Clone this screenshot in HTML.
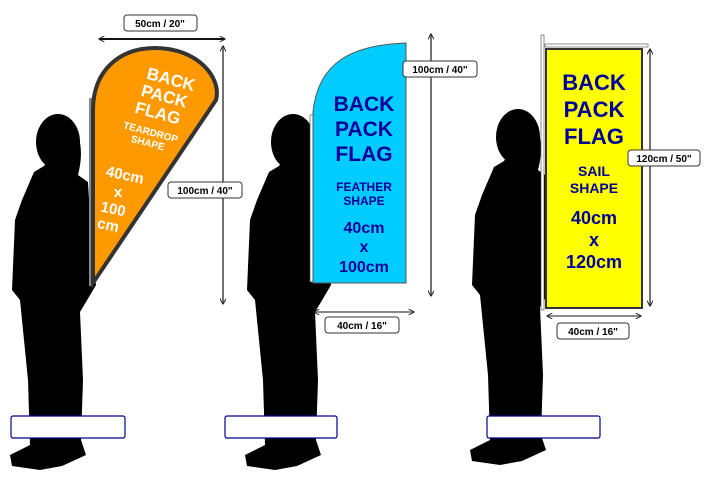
<!DOCTYPE html>
<html><head><style>
body{margin:0;background:#fff;width:707px;height:474px;overflow:hidden}
svg text{font-family:"Liberation Sans",sans-serif;font-weight:bold}
</style></head><body>
<svg width="707" height="474" viewBox="0 0 707 474" xmlns="http://www.w3.org/2000/svg">
<defs>
<g id="p">
<ellipse cx="58" cy="142" rx="22" ry="28" fill="#000"/>
<path d="M70,125 C84,135 82,160 78,175 L88,182 L92,250 L96,285 L86,302 L80,312 L83,380 L81,440 L86,455 L62,466 L40,470 L12,466 L10,455 L30,445 L28,380 L20,300 L12,290 L15,220 L22,200 L34,172 L44,166 Z" fill="#000"/>
</g>
<marker id="a" markerWidth="6" markerHeight="6" refX="5.5" refY="3" orient="auto-start-reverse" markerUnits="userSpaceOnUse"><path d="M0,0 L6,3 L0,6" fill="none" stroke="#222" stroke-width="1"/></marker>
</defs>
<use href="#p"/>
<use href="#p" x="235"/>
<use href="#p" x="460" y="-5"/>

<!-- teardrop -->
<rect x="89" y="98" width="3" height="188" fill="#888"/>
<path d="M93,283 L93,110 C93,70 120,48 155,48 C198,48 222,78 216,100 Z" fill="#f90" stroke="#333" stroke-width="4"/>
<g fill="#fff" text-anchor="middle" transform="rotate(15 150 150)">
<text x="152" y="82" font-size="17">BACK</text>
<text x="150" y="100" font-size="17">PACK</text>
<text x="148" y="118" font-size="17">FLAG</text>
<text x="146" y="136" font-size="10">TEARDROP</text>
<text x="146" y="147" font-size="10">SHAPE</text>
</g>
<g fill="#fff" text-anchor="middle" font-size="15">
<text x="125" y="180" transform="rotate(12 125 175)">40cm</text>
<text x="118" y="197">x</text>
<text x="113" y="214" transform="rotate(12 113 210)">100</text>
<text x="108" y="230" transform="rotate(12 108 226)">cm</text>
</g>
<line x1="99" y1="39" x2="225" y2="39" stroke="#111" stroke-width="2" marker-start="url(#a)" marker-end="url(#a)"/>
<rect x="124" y="15" width="73" height="16" rx="3" fill="#fff" stroke="#333"/>
<text x="160" y="27" font-size="10" text-anchor="middle">50cm / 20"</text>
<line x1="223" y1="46" x2="223" y2="304" stroke="#444" stroke-width="1.5" marker-start="url(#a)" marker-end="url(#a)"/>
<rect x="168" y="182" width="74" height="16" rx="3" fill="#fff" stroke="#333"/>
<text x="205" y="194" font-size="10" text-anchor="middle">100cm / 40"</text>

<!-- feather -->
<rect x="310" y="115" width="3" height="167" fill="#fff" stroke="#444" stroke-width="0.6"/>
<path d="M313,283 L313,112 C318,62 352,45 406,43 L406,283 Z" fill="#00ccff" stroke="#555" stroke-width="1"/>
<g fill="#000099" text-anchor="middle">
<text x="364" y="111" font-size="21">BACK</text>
<text x="364" y="136" font-size="21">PACK</text>
<text x="364" y="161" font-size="21">FLAG</text>
<text x="364" y="191" font-size="12">FEATHER</text>
<text x="364" y="205" font-size="12">SHAPE</text>
<text x="364" y="233" font-size="16">40cm</text>
<text x="364" y="252" font-size="16">x</text>
<text x="364" y="272" font-size="16">100cm</text>
</g>
<line x1="431" y1="34" x2="431" y2="296" stroke="#444" stroke-width="1.5" marker-start="url(#a)" marker-end="url(#a)"/>
<rect x="403" y="61" width="74" height="16" rx="3" fill="#fff" stroke="#333"/>
<text x="440" y="73" font-size="10" text-anchor="middle">100cm / 40"</text>
<line x1="314" y1="312" x2="414" y2="312" stroke="#444" stroke-width="1.2" marker-start="url(#a)" marker-end="url(#a)"/>
<rect x="325" y="317" width="74" height="16" rx="3" fill="#fff" stroke="#333"/>
<text x="362" y="329" font-size="10" text-anchor="middle">40cm / 16"</text>

<!-- sail -->
<rect x="541" y="35" width="3" height="275" fill="#fff" stroke="#444" stroke-width="0.6"/>
<rect x="545" y="44" width="103" height="3" fill="#fff" stroke="#444" stroke-width="0.6"/>
<rect x="546" y="49" width="96" height="259" fill="#ff0" stroke="#333" stroke-width="2"/>
<g fill="#000099" text-anchor="middle">
<text x="594" y="90" font-size="22">BACK</text>
<text x="594" y="117" font-size="22">PACK</text>
<text x="594" y="144" font-size="22">FLAG</text>
<text x="594" y="176" font-size="14">SAIL</text>
<text x="594" y="193" font-size="14">SHAPE</text>
<text x="594" y="224" font-size="18">40cm</text>
<text x="594" y="246" font-size="18">x</text>
<text x="594" y="268" font-size="18">120cm</text>
</g>
<line x1="650" y1="49" x2="650" y2="306" stroke="#444" stroke-width="1.5" marker-start="url(#a)" marker-end="url(#a)"/>
<rect x="628" y="150" width="72" height="16" rx="3" fill="#fff" stroke="#333"/>
<text x="664" y="162" font-size="10" text-anchor="middle">120cm / 50"</text>
<line x1="547" y1="316" x2="641" y2="316" stroke="#444" stroke-width="1.2" marker-start="url(#a)" marker-end="url(#a)"/>
<rect x="557" y="323" width="72" height="16" rx="3" fill="#fff" stroke="#333"/>
<text x="593" y="335" font-size="10" text-anchor="middle">40cm / 16"</text>

<!-- boxes -->
<g fill="#fff" stroke="#00008b" stroke-width="1.2">
<rect x="11" y="416" width="114" height="22" rx="2"/>
<rect x="225" y="416" width="112" height="22" rx="2"/>
<rect x="487" y="416" width="113" height="22" rx="2"/>
</g>
</svg>
</body></html>
